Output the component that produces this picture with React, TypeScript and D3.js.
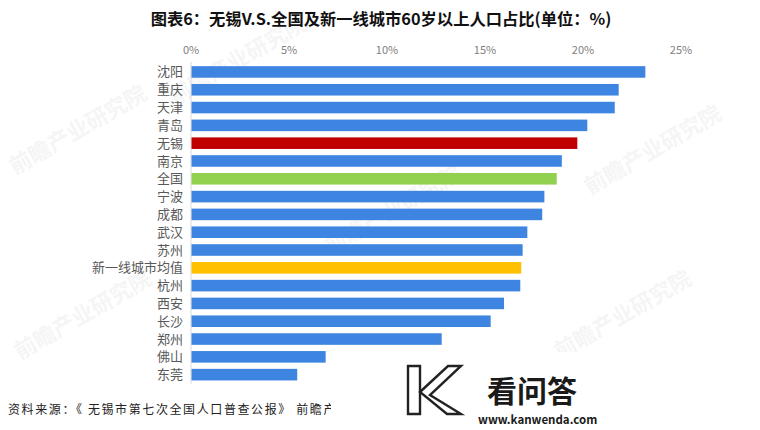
import React from 'react';
import * as d3 from 'd3';

const cities = ['沈阳', '重庆', '天津', '青岛', '无锡', '南京', '全国', '宁波', '成都', '武汉', '苏州', '新一线城市均值', '杭州', '西安', '长沙', '郑州', '佛山', '东莞'];
const shares = [23.18, 21.82, 21.62, 20.22, 19.71, 18.92, 18.66, 18.03, 17.92, 17.16, 16.92, 16.85, 16.8, 15.97, 15.29, 12.79, 6.87, 5.42];
const ticks = [0, 5, 10, 15, 20, 25];
const highlight: Record<string, string> = { '无锡': '#C00000', '全国': '#92D050', '新一线城市均值': '#FFC000' };
const watermarks = [[15, 175], [330, 255], [590, 195], [20, 360], [560, 360], [175, 105]];

const font = '"Noto Sans CJK SC", "Noto Sans", sans-serif';

export default function App() {
  const x = d3.scaleLinear().domain([0, 25]).range([191, 681]);
  const y = d3.scaleBand().domain(cities).range([62.6, 384]).paddingInner(0.35).paddingOuter(0.2);

  return (
    <svg width={760} height={430} style={{ position: 'absolute', left: 0, top: 0, background: '#fff' }} fontFamily={font}>
      <rect width={760} height={430} fill='#fff' />

      {/* faint background watermarks */}
      {watermarks.map(([wx, wy], i) => (
        <text key={i} x={wx} y={wy} transform={`rotate(-30 ${wx} ${wy})`} fontSize={22} fontWeight='bold' fill='#000' opacity={0.035}>前瞻产业研究院</text>
      ))}

      <text x={381} y={25} textAnchor='middle' fontSize={16.3} fontWeight='bold' fill='#111'>图表6：无锡V.S.全国及新一线城市60岁以上人口占比(单位：%)</text>

      {/* top axis labels */}
      {ticks.map(t => (
        <text key={t} x={x(t)} y={54} textAnchor='middle' fontSize={11} fill='#808080'>{t}%</text>
      ))}

      <line x1={x(0)} x2={x(0)} y1={62} y2={384} stroke='#d9d9d9' strokeWidth={1} />

      {cities.map((c, i) => (
        <g key={c}>
          <rect x={x(0) + 0.5} y={y(c)} width={x(shares[i]) - x(0) - 0.5} height={y.bandwidth()} fill={highlight[c] || '#3D85E0'} />
          <text x={183} y={(y(c) ?? 0) + y.bandwidth() / 2} dy='0.35em' textAnchor='end' fontSize={13} fill='#595959'>{c}</text>
        </g>
      ))}

      <text x={8} y={414} fontSize={12} letterSpacing={1.6} fill='#222'>资料来源：《 无锡市第七次全国人口普查公报》 前瞻产业研究院</text>

      {/* site logo overlay */}
      <rect x={331} y={352} width={270} height={70} fill='#fff' />
      <g fill='none' stroke='#222' strokeWidth={2.4}>
        <path d='M408 366 L420 366 L420 414 L408 414 Z' />
        <path d='M420 392 L448 366 L461 366 L430 395 L461 414 L447 414 Z' />
      </g>
      <text x={487} y={402} fontSize={30} fontWeight='bold' fill='#1a1a1a'>看问答</text>
      <text x={478} y={424} fontSize={11.5} fontWeight='bold' fill='#1a1a1a'>www.kanwenda.com</text>
    </svg>
  );
}
